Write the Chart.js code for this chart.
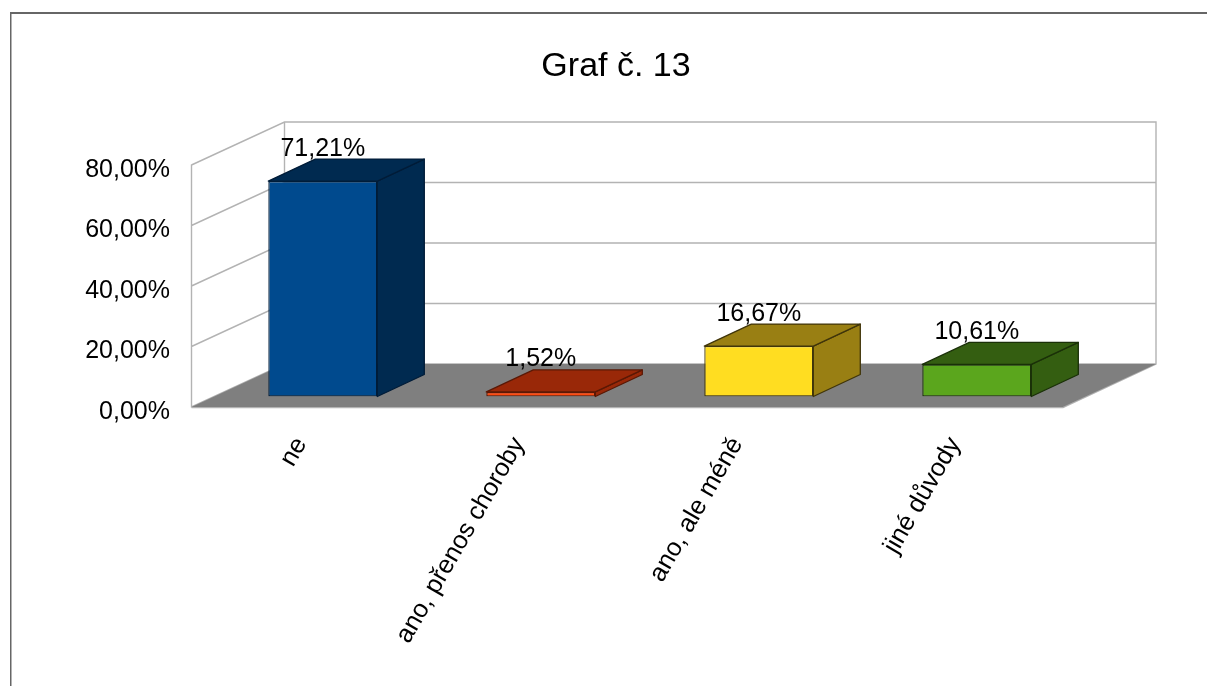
<!DOCTYPE html>
<html>
<head>
<meta charset="utf-8">
<style>html,body{margin:0;padding:0;background:#fff}canvas{display:block}</style>
<script src="https://cdn.jsdelivr.net/npm/chart.js@4"></script>
</head>
<body>
<canvas id="c" width="1207" height="686"></canvas>
<script>
const categories = ['ne', 'ano, přenos choroby', 'ano, ale méně', 'jiné důvody'];
const values = [71.21, 1.52, 16.67, 10.61];
const frontColors = ['#004a8e', '#ff4a10', '#ffdd21', '#5ba61d'];
const sideColors = ['#002a50', '#992808', '#997f13', '#345e11'];
const edgeColors = ['#001c38', '#5a1805', '#40350a', '#1a3008'];
const titleText = 'Graf č. 13';
const FONT = '"Liberation Sans", Arial, sans-serif';
const fmt = v => v.toFixed(2).replace('.', ',') + '%';

const WALL = {dx: 93, dy: -43};
const BAR = {dx: 47, dy: -22};
const SHIFT = {dx: 22.8, dy: -10.5};

function poly(ctx, pts, fill, stroke) {
  ctx.beginPath();
  pts.forEach((p, i) => i ? ctx.lineTo(p[0], p[1]) : ctx.moveTo(p[0], p[1]));
  ctx.closePath();
  if (fill) { ctx.fillStyle = fill; ctx.fill(); }
  if (stroke) { ctx.strokeStyle = stroke; ctx.lineWidth = 1.3; ctx.stroke(); }
}

const scene = {
  id: 'scene',
  beforeDraw(chart) {
    const {ctx, chartArea: a, scales: {y}} = chart;
    ctx.save();
    ctx.fillStyle = '#ffffff';
    ctx.fillRect(0, 0, chart.width, chart.height);
    ctx.fillStyle = '#666666';
    ctx.fillRect(10, 12, chart.width - 10, 2);
    ctx.fillRect(10, 12, 1.5, chart.height - 12);
    const L = a.left + 0.5, R = a.right, B = a.bottom, T = a.top;
    ctx.strokeStyle = '#b3b3b3'; ctx.lineWidth = 1.4;
    ctx.beginPath();
    ctx.moveTo(L, B + 0.5); ctx.lineTo(L, T); ctx.lineTo(L + WALL.dx, T + WALL.dy);
    ctx.lineTo(R + WALL.dx, T + WALL.dy); ctx.lineTo(R + WALL.dx, B + WALL.dy); ctx.lineTo(R, B + 0.5);
    ctx.lineTo(L, B + 0.5);
    ctx.moveTo(L + WALL.dx, T + WALL.dy); ctx.lineTo(L + WALL.dx, B + WALL.dy);
    y.ticks.forEach(t => {
      const py = y.getPixelForValue(t.value);
      ctx.moveTo(L, py);
      ctx.lineTo(L + WALL.dx, py + WALL.dy);
      ctx.lineTo(R + WALL.dx, py + WALL.dy);
    });
    ctx.stroke();
    poly(ctx, [[L, B], [R, B], [R + WALL.dx, B + WALL.dy], [L + WALL.dx, B + WALL.dy]], '#7f7f7f', null);
    ctx.restore();
  },
  beforeDatasetsDraw(chart) {
    const ctx = chart.ctx;
    const meta = chart.getDatasetMeta(0);
    ctx.save();
    ctx.translate(SHIFT.dx, SHIFT.dy);
    ctx.lineJoin = 'round';
    meta.data.forEach((el, i) => {
      const l = el.x - el.width / 2, r = el.x + el.width / 2, t = el.y, b = el.base;
      poly(ctx, [[r, t], [r + BAR.dx, t + BAR.dy], [r + BAR.dx, b + BAR.dy], [r, b]], sideColors[i], edgeColors[i]);
      poly(ctx, [[l, t], [l + BAR.dx, t + BAR.dy], [r + BAR.dx, t + BAR.dy], [r, t]], sideColors[i], edgeColors[i]);
    });
    ctx.restore();
  },
  beforeDatasetDraw(chart) {
    chart.ctx.save();
    chart.ctx.translate(SHIFT.dx, SHIFT.dy);
  },
  afterDatasetDraw(chart) {
    chart.ctx.restore();
  },
  afterDatasetsDraw(chart) {
    const ctx = chart.ctx;
    const meta = chart.getDatasetMeta(0);
    ctx.save();
    ctx.fillStyle = '#000';
    ctx.font = '25px ' + FONT;
    ctx.textAlign = 'center';
    ctx.textBaseline = 'alphabetic';
    meta.data.forEach((el, i) => {
      ctx.fillText(fmt(values[i]), el.x + SHIFT.dx, el.y + SHIFT.dy + BAR.dy - 3.5);
    });
    ctx.restore();
  }
};

new Chart(document.getElementById('c'), {
  type: 'bar',
  data: {
    labels: categories,
    datasets: [{
      data: values,
      backgroundColor: frontColors,
      borderColor: edgeColors,
      borderWidth: 1.3,
      borderSkipped: false,
      barPercentage: 0.5,
      categoryPercentage: 1
    }]
  },
  plugins: [scene],
  options: {
    responsive: false,
    animation: false,
    layout: {padding: {left: 25, right: 0, top: 0, bottom: 0}},
    plugins: {
      legend: {display: false},
      tooltip: {enabled: false},
      title: {
        display: true,
        text: titleText,
        color: '#000',
        font: {family: FONT, size: 34, weight: 'normal', lineHeight: 1.2},
        padding: {top: 46.6, bottom: 77.6}
      }
    },
    scales: {
      x: {
        grid: {display: false},
        border: {display: false},
        ticks: {
          color: '#000',
          font: {family: FONT, size: 25.5},
          minRotation: 60,
          maxRotation: 60,
          autoSkip: false,
          padding: 17,
          labelOffset: 1
        },
        afterFit(s) { s.height = 279; s.paddingLeft = 0; s.paddingRight = 0; }
      },
      y: {
        min: 0,
        max: 80,
        grid: {display: false},
        border: {display: false},
        ticks: {
          stepSize: 20,
          color: '#000',
          font: {family: FONT, size: 25},
          padding: 13,
          labelOffset: 5,
          callback: v => fmt(v)
        },
        afterFit(s) { s.width = 166; s.paddingTop = 0; s.paddingBottom = 0; }
      },
      rightGap: {
        type: 'linear',
        position: 'right',
        display: true,
        grid: {display: false},
        border: {display: false},
        ticks: {display: false},
        afterFit(s) { s.width = 144; }
      }
    }
  }
});
</script>
</body>
</html>
